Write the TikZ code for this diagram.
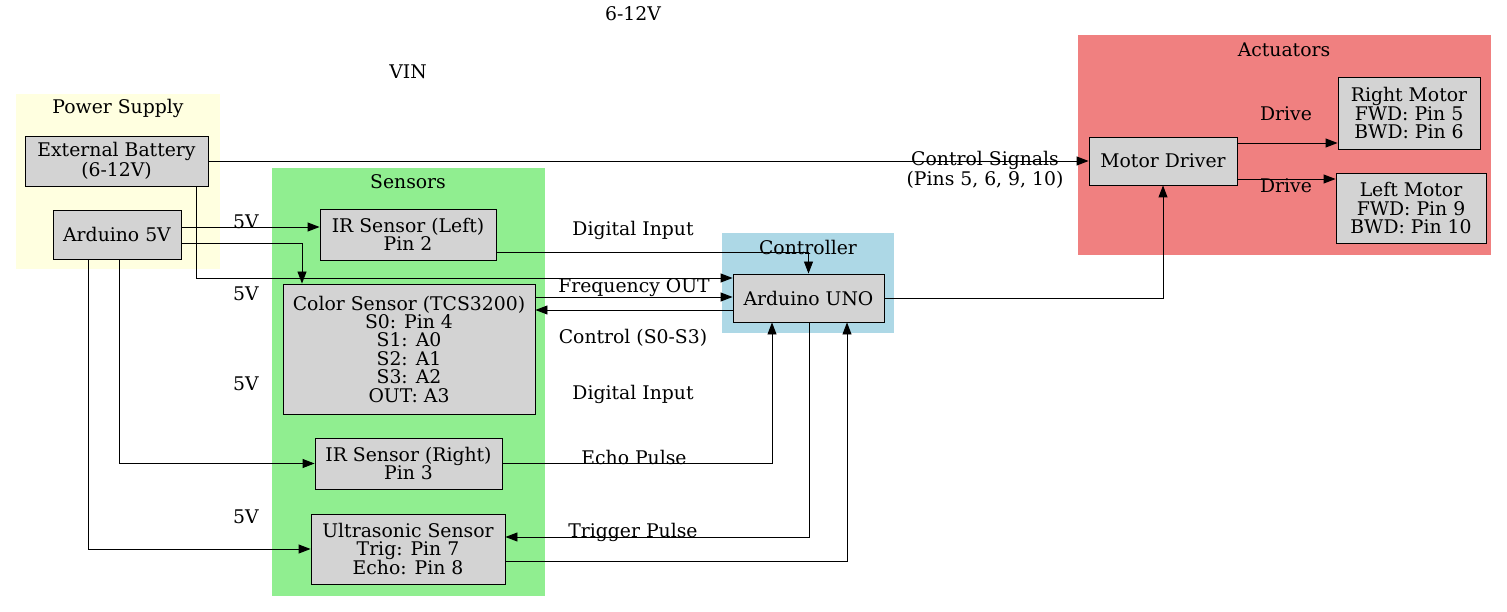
\documentclass[tikz,border=0pt]{standalone}
\usepackage{fontspec}
\setmainfont{DejaVu Serif}
\usetikzlibrary{arrows.meta}
\definecolor{powerbg}{HTML}{FFFFE0}
\definecolor{sensorbg}{HTML}{90EE90}
\definecolor{ctrlbg}{HTML}{ADD8E6}
\definecolor{actbg}{HTML}{F08080}
\definecolor{boxgray}{HTML}{D3D3D3}
\newcommand{\diagfont}{\fontsize{18.8}{18.4}\selectfont}
\begin{document}
\begin{tikzpicture}[x=1pt,y=-1pt,>={Triangle[length=12pt,width=9pt]}]
        \tikzstyle{part}=[rectangle,draw=black,fill=boxgray,line width=0.9pt,align=center,inner sep=0pt,font=\diagfont]
        \tikzstyle{edge}=[draw,->,line width=0.9pt]
        \tikzstyle{lbl}=[inner sep=0pt,align=center,font=\diagfont]
        \useasboundingbox (0,0) rectangle (1507,612);
       % clusters
       \fill[powerbg] (16,94) rectangle (220,269);
       \fill[sensorbg] (272,168) rectangle (545,596);
       \fill[ctrlbg] (722,233) rectangle (894,333);
       \fill[actbg] (1078,35) rectangle (1491,255);
       \node [lbl] (cpower) at (118,108) {Power Supply};
       \node [lbl] (csens) at (408,182) {Sensors};
       \node [lbl] (cctrl) at (808,247) {Controller};
       \node [lbl] (cact) at (1284,50) {Actuators};
       % parts
       \node [part,minimum width=183pt,minimum height=50pt] (battery) at (116.5,161) {External Battery\\(6-12V)};
       \node [part,minimum width=128pt,minimum height=49pt] (ard5v) at (117,234.5) {Arduino 5V};
       \node [part,minimum width=176pt,minimum height=51pt] (irleft) at (408,234.5) {IR Sensor (Left)\\Pin 2};
       \node [part,minimum width=252pt,minimum height=130pt] (color) at (409,349) {Color Sensor (TCS3200)\\S0: Pin 4\\S1: A0\\S2: A1\\S3: A2\\OUT: A3};
       \node [part,minimum width=187pt,minimum height=51pt] (irright) at (408.5,463.5) {IR Sensor (Right)\\Pin 3};
       \node [part,minimum width=194pt,minimum height=70pt] (ultra) at (408,549) {Ultrasonic Sensor\\Trig: Pin 7\\Echo: Pin 8};
       \node [part,minimum width=151pt,minimum height=48pt] (uno) at (808.5,298) {Arduino UNO};
       \node [part,minimum width=148pt,minimum height=48pt] (driver) at (1163,161) {Motor Driver};
       \node [part,minimum width=142pt,minimum height=72pt] (rmotor) at (1409,113) {Right Motor\\FWD: Pin 5\\BWD: Pin 6};
       \node [part,minimum width=150pt,minimum height=70pt] (lmotor) at (1411,208) {Left Motor\\FWD: Pin 9\\BWD: Pin 10};
       % wires
       \path[edge] (battery.east) -- (driver.west);
       \path[edge] ([xshift=79.5pt]battery.south) |- ([yshift=20pt]uno.west);
       \path[edge] ([yshift=7.5pt]ard5v.east) -- ([yshift=7.5pt]irleft.west);
       \path[edge] ([yshift=-8.5pt]ard5v.east) -| ([xshift=-107pt]color.north);
       \path[edge] ([xshift=2pt]ard5v.south) |- (irright.west);
       \path[edge] ([xshift=-29pt]ard5v.south) |- (ultra.west);
       \path[edge] ([yshift=-17.5pt]irleft.east) -| (uno.north);
       \path[edge] ([yshift=52pt]color.east) -- ([yshift=1pt]uno.west);
       \path[edge] ([yshift=-12pt]uno.west) -- ([yshift=39pt]color.east);
       \path[edge] (irright.east) -| ([xshift=-36.5pt]uno.south);
       \path[edge] ([xshift=0.5pt]uno.south) |- ([yshift=12pt]ultra.east);
       \path[edge] ([yshift=-12pt]ultra.east) -| ([xshift=38.5pt]uno.south);
       \path[edge] (uno.east) -| (driver.south);
       \path[edge] ([yshift=18pt]driver.east) -- ([yshift=-30pt]rmotor.west);
       \path[edge] ([yshift=-18pt]driver.east) -- ([yshift=29pt]lmotor.west);
       % wire labels
       \node [lbl] (l612) at (633,14) {6-12V};
       \node [lbl] (lvin) at (408,72) {VIN};
       \node [lbl] (l5va) at (246,222) {5V};
       \node [lbl] (l5vb) at (246,294) {5V};
       \node [lbl] (l5vc) at (246,384) {5V};
       \node [lbl] (l5vd) at (246,517) {5V};
       \node [lbl] (ldiga) at (633,230) {Digital Input};
       \node [lbl] (lfreq) at (634,288) {Frequency OUT};
       \node [lbl] (lctrl) at (633,338) {Control (S0-S3)};
       \node [lbl] (ldigb) at (633,394) {Digital Input};
       \node [lbl] (lecho) at (634,457) {Echo Pulse};
       \node [lbl] (ltrig) at (633,532) {Trigger Pulse};
       \node [lbl] (lsig) at (985,170) {Control Signals\\(Pins 5, 6, 9, 10)};
       \node [lbl] (ldra) at (1286,114) {Drive};
       \node [lbl] (ldrb) at (1286,186) {Drive};
      \end{tikzpicture}
\end{document}
